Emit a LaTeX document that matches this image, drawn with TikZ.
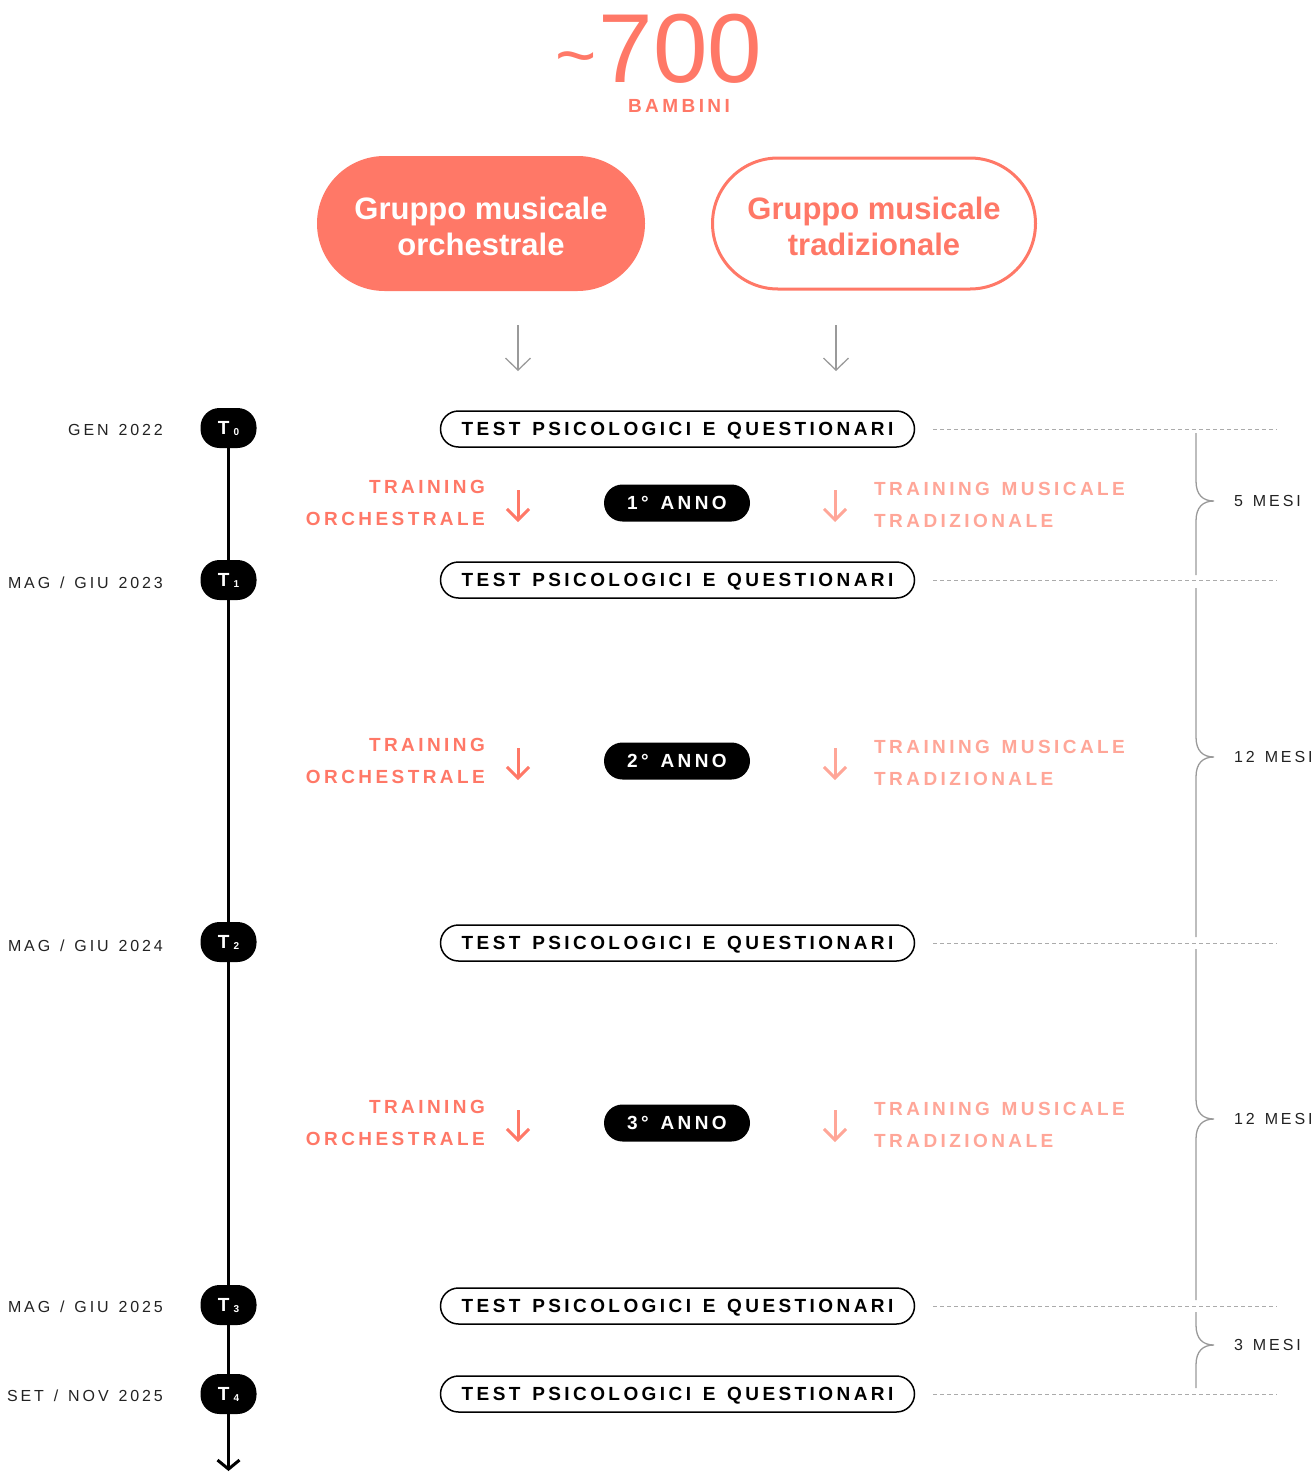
\documentclass[tikz,border=0pt]{standalone}
\usepackage{fontspec}
\setmainfont{Liberation Sans}
\newfontfamily\spfont{Liberation Sans}[LetterSpace=18,WordSpace=1.35]
\usetikzlibrary{arrows.meta}
\definecolor{salmon}{HTML}{FF7867}
\definecolor{salmonlight}{HTML}{FFA698}
\definecolor{linegray}{HTML}{9A9A9A}
\definecolor{dashgray}{HTML}{ABABAB}
\definecolor{labelgray}{HTML}{222222}
\newcommand\brc[3]{\draw[bracel] (1196,#1) -- (1196,#2-20) .. controls (1196,#2-6) and (1203,#2) .. (1214,#2) .. controls (1203,#2) and (1196,#2+6) .. (1196,#2+20) -- (1196,#3);}
\begin{document}
\begin{tikzpicture}[x=1pt,y=-1pt,
  pillA/.style={fill=salmon, text=white, minimum width=328pt, minimum height=135pt, rounded corners=67.5pt, inner sep=0pt, font=\fontsize{31}{36}\selectfont\bfseries, align=center},
  pillB/.style={draw=salmon, line width=3pt, text=salmon, minimum width=323pt, minimum height=131pt, rounded corners=65.5pt, inner sep=0pt, font=\fontsize{31}{36}\selectfont\bfseries, align=center},
  testbox/.style={draw=black, line width=1.5pt, minimum width=474pt, minimum height=36pt, rounded corners=18pt, inner sep=0pt, font=\spfont\bfseries\fontsize{19}{19}\selectfont, text height=13.6pt, text depth=0pt},
  tnode/.style={fill=black, text=white, minimum width=56pt, minimum height=40pt, rounded corners=19pt, inner sep=0pt, font=\bfseries\fontsize{19}{19}\selectfont, text height=13.6pt, text depth=0pt},
  yearbox/.style={fill=black, text=white, minimum width=146pt, minimum height=37pt, rounded corners=18.5pt, inner sep=0pt, font=\spfont\bfseries\fontsize{19}{19}\selectfont, text height=13.6pt, text depth=0pt},
  datelbl/.style={anchor=east, inner sep=0pt, text=labelgray, font=\spfont\fontsize{16}{16}\selectfont, text height=11.5pt, text depth=0pt},
  mesilbl/.style={anchor=west, inner sep=0pt, text=labelgray, font=\spfont\fontsize{16}{16}\selectfont, text height=11.5pt, text depth=0pt},
  trainL/.style={anchor=east, align=right, inner sep=0pt, text=salmon, font=\spfont\bfseries\fontsize{19}{32}\selectfont},
  trainR/.style={anchor=west, align=left, inner sep=0pt, text=salmonlight, font=\spfont\bfseries\fontsize{19}{32}\selectfont},
  grayarrow/.style={draw=linegray, line width=1.3pt, -{Straight Barb[length=12pt,width=25pt]}},
  salarrow/.style={draw=salmon, line width=3pt, -{Straight Barb[length=11pt,width=22pt]}},
  salarrowL/.style={draw=salmonlight, line width=3pt, -{Straight Barb[length=11pt,width=22pt]}},
  dashline/.style={draw=dashgray, line width=1pt, dash pattern=on 4pt off 3pt},
  bracel/.style={draw=linegray, line width=1.3pt},
  tl/.style={draw=black, line width=3pt}
]
\useasboundingbox (0,0) rectangle (1315,1473);

% header
\node[text=salmon, inner sep=0pt, font=\fontsize{98}{98}\selectfont, text height=70pt, text depth=0pt] (num) at (659,47) {\raisebox{3pt}{\scalebox{0.72}{\textasciitilde}}\kern2pt 700};
\node[text=salmon, inner sep=0pt, font=\spfont\bfseries\fontsize{19}{19}\selectfont, text height=13.6pt, text depth=0pt] (bambini) at (679,106) {BAMBINI};

% groups
\node[pillA] (g1) at (481,223.5) {\rule{0pt}{29pt}Gruppo musicale\\orchestrale};
\node[pillB] (g2) at (874,223.5) {\rule{0pt}{29pt}Gruppo musicale\\tradizionale};

\coordinate (ga1s) at (518,325); \coordinate (ga1e) at (518,371);
\coordinate (ga2s) at (836,325); \coordinate (ga2e) at (836,371);
\draw[grayarrow] (ga1s) -- (ga1e);
\draw[grayarrow] (ga2s) -- (ga2e);

% timeline nodes
\node[tnode] (t0) at (228.5,428) {T\kern4pt\raisebox{-1pt}{\fontsize{10}{10}\selectfont 0}};
\node[tnode] (t1) at (228.5,580) {T\kern4pt\raisebox{-1pt}{\fontsize{10}{10}\selectfont 1}};
\node[tnode] (t2) at (228.5,942) {T\kern4pt\raisebox{-1pt}{\fontsize{10}{10}\selectfont 2}};
\node[tnode] (t3) at (228.5,1305) {T\kern4pt\raisebox{-1pt}{\fontsize{10}{10}\selectfont 3}};
\node[tnode] (t4) at (228.5,1394) {T\kern4pt\raisebox{-1pt}{\fontsize{10}{10}\selectfont 4}};
\coordinate (tend) at (228.5,1471);
\draw[tl] (t0) -- (t1) -- (t2) -- (t3) -- (t4);
\draw[tl, -{Straight Barb[length=9pt,width=22pt]}] (t4) -- (tend);

% dates
\node[datelbl] (d0) at (163,430) {GEN 2022};
\node[datelbl] (d1) at (163,583) {MAG / GIU 2023};
\node[datelbl] (d2) at (163,946) {MAG / GIU 2024};
\node[datelbl] (d3) at (163,1307) {MAG / GIU 2025};
\node[datelbl] (d4) at (163,1396) {SET / NOV 2025};

% tests
\node[testbox] (q0) at (677.5,429) {TEST PSICOLOGICI E QUESTIONARI};
\node[testbox] (q1) at (677.5,580) {TEST PSICOLOGICI E QUESTIONARI};
\node[testbox] (q2) at (677.5,943) {TEST PSICOLOGICI E QUESTIONARI};
\node[testbox] (q3) at (677.5,1306) {TEST PSICOLOGICI E QUESTIONARI};
\node[testbox] (q4) at (677.5,1394) {TEST PSICOLOGICI E QUESTIONARI};

\foreach \q/\yy in {q0/429,q1/580,q2/943,q3/1306,q4/1394}{
  \coordinate (\q e) at (1277,\yy);
  \draw[dashline] ([xshift=18pt]\q.east) -- (\q e);
}

% years and trainings
\foreach \i/\yy/\lab in {1/503/1° ANNO,2/761/2° ANNO,3/1123/3° ANNO}{
  \node[yearbox] (y\i) at (677,\yy) {\lab};
  \node[trainL] (tl\i) at (485,\yy) {TRAINING\\ORCHESTRALE};
  \node[trainR] (tr\i) at (874,\yy+2) {TRAINING MUSICALE\\TRADIZIONALE};
  \coordinate (al\i s) at (518,\yy-13); \coordinate (al\i e) at (518,\yy+19);
  \coordinate (ar\i s) at (835,\yy-13); \coordinate (ar\i e) at (835,\yy+19);
  \draw[salarrow] (al\i s) -- (al\i e);
  \draw[salarrowL] (ar\i s) -- (ar\i e);
}

% braces
\brc{433}{501}{575}
\brc{588}{757}{937}
\brc{949}{1119}{1300}
\brc{1312}{1345}{1388}
\node[mesilbl] (m1) at (1234,501) {5 MESI};
\node[mesilbl] (m2) at (1234,757) {12 MESI};
\node[mesilbl] (m3) at (1234,1119) {12 MESI};
\node[mesilbl] (m4) at (1234,1345) {3 MESI};
\end{tikzpicture}
\end{document}
